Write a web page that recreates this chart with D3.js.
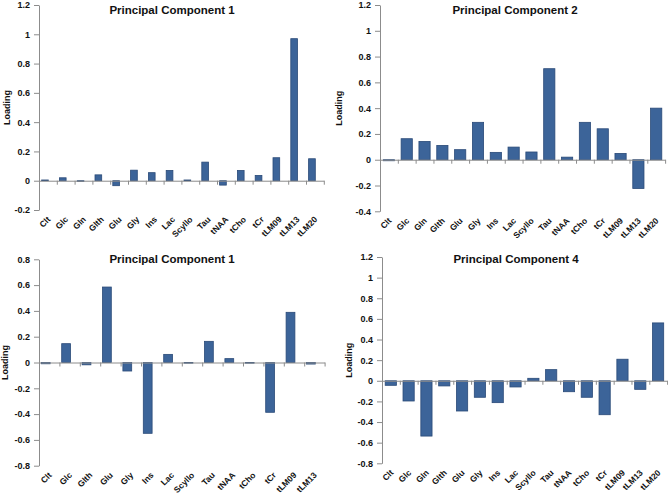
<!DOCTYPE html>
<html>
<head>
<meta charset="utf-8">
<script src="https://cdn.jsdelivr.net/npm/d3@7"></script>
<style>
body { margin:0; background:#fff; }
text { font-family:"Liberation Sans", Arial, sans-serif; font-weight:bold; fill:#111; }
</style>
</head>
<body>
<svg id="graph" width="668" height="494"></svg>
<script>
// categories
var cats16 = ["Clt","Glc","Gln","Glth","Glu","Gly","Ins","Lac","Scyllo","Tau","tNAA","tCho","tCr","tLM09","tLM13","tLM20"]
var cats14 = ["Clt","Glc","Glth","Glu","Gly","Ins","Lac","Scyllo","Tau","tNAA","tCho","tCr","tLM09","tLM13"]

// loadings
var pc1 = [0.005,0.02,-0.005,0.04,-0.034,0.072,0.055,0.07,0.005,0.127,-0.03,0.07,0.036,0.157,0.97,0.15]
var pc2 = [-0.008,0.163,0.142,0.111,0.078,0.29,0.057,0.098,0.06,0.706,0.02,0.29,0.24,0.049,-0.223,0.40]
var pc3 = [-0.01,0.146,-0.018,0.585,-0.066,-0.549,0.063,-0.005,0.164,0.03,-0.005,-0.386,0.389,-0.012]
var pc4 = [-0.044,-0.196,-0.536,-0.05,-0.293,-0.16,-0.212,-0.06,0.024,0.108,-0.106,-0.16,-0.329,0.209,-0.083,0.561]

// tick labels
var ticks1 = [-0.2,0,0.2,0.4,0.6,0.8,1,1.2]
var ticks2 = [-0.4,-0.2,0,0.2,0.4,0.6,0.8,1,1.2]
var ticks3 = [-0.8,-0.6,-0.4,-0.2,0,0.2,0.4,0.6,0.8]
var ticks4 = [-0.8,-0.6,-0.4,-0.2,0,0.2,0.4,0.6,0.8,1,1.2]

var titles = ["Principal Component 1","Principal Component 2","Principal Component 1","Principal Component 4"]

var panels = [
    {title:titles[0], cats:cats16, vals:pc1, ticks:ticks1, left:39, band:17.8, top:5, bottom:210, barW:6.7, barOff:2.6, titleX:172, titleY:14, labX:7},
    {title:titles[1], cats:cats16, vals:pc2, ticks:ticks2, left:380, band:17.82, top:5, bottom:211.3, barW:11.2, barOff:3.3, titleX:515, titleY:14, labX:339},
    {title:titles[2], cats:cats14, vals:pc3, ticks:ticks3, left:39, band:20.4, top:259.3, bottom:465.7, barW:8.8, barOff:2.3, titleX:172, titleY:263, labX:5},
    {title:titles[3], cats:cats16, vals:pc4, ticks:ticks4, left:382, band:17.82, top:257, bottom:463.3, barW:11.2, barOff:3.2, titleX:516, titleY:263, labX:349}
]

var fmt = function(d)
{
    return String(+d.toFixed(2))
}

var drawPanel = function(svg,p)
{
    var n = p.cats.length
    var right = p.left + n*p.band

    var xScale = d3.scaleBand()
    .domain(p.cats)
    .range([p.left,right])

    var edgeScale = d3.scaleLinear()
    .domain([0,n])
    .range([p.left,right])

    var yScale = d3.scaleLinear()
    .domain([p.ticks[0],p.ticks[p.ticks.length-1]])
    .range([p.bottom,p.top])

    var g = svg.append("g")

    // y axis
    var yAxis = g.append("g")
    .attr("transform","translate("+p.left+",0)")
    .call(d3.axisLeft(yScale).tickValues(p.ticks).tickSize(5).tickSizeOuter(0).tickFormat(fmt))
    yAxis.selectAll("path,line").attr("stroke","#8c8c8c")
    yAxis.selectAll("text")
    .attr("x",-9)
    .style("font-size","9px")
    .style("font-family","Liberation Sans, Arial, sans-serif")
    .style("font-weight","bold")
    .attr("fill","#111")

    // bars
    g.selectAll("rect")
    .data(p.vals)
    .enter()
    .append("rect")
    .attr("x",function(v,i){ return xScale(p.cats[i])+p.barOff })
    .attr("y",function(v){ return Math.min(yScale(v),yScale(0)) })
    .attr("width",p.barW)
    .attr("height",function(v){ return Math.abs(yScale(v)-yScale(0)) })
    .attr("fill","#3c6499")
    .attr("stroke","#2a4a78")
    .attr("stroke-width",0.8)

    // category axis on zero line
    var xAxis = g.append("g")
    .attr("transform","translate(0,"+yScale(0)+")")
    .call(d3.axisBottom(edgeScale).tickValues(d3.range(n+1)).tickSize(4).tickSizeOuter(0).tickFormat(""))
    xAxis.selectAll("path,line").attr("stroke","#8c8c8c")

    // category labels at the bottom
    g.selectAll(".cat")
    .data(p.cats)
    .enter()
    .append("text")
    .attr("class","cat")
    .attr("text-anchor","end")
    .attr("transform",function(c)
         {
        var cx = xScale(c)+xScale.bandwidth()/2+3
        return "translate("+cx+","+(p.bottom+10)+") rotate(-45)"
    })
    .style("font-size","8.5px")
    .text(function(c){ return c })

    // title
    g.append("text")
    .attr("x",p.titleX)
    .attr("y",p.titleY)
    .attr("text-anchor","middle")
    .style("font-size","11.5px")
    .text(p.title)

    // axis title
    g.append("text")
    .attr("transform","translate("+(p.labX+3)+","+((p.top+p.bottom)/2)+") rotate(-90)")
    .attr("text-anchor","middle")
    .style("font-size","9px")
    .text("Loading")
}

var initGraph = function()
{
    var svg = d3.select("#graph")
    panels.forEach(function(p){ drawPanel(svg,p) })
}

initGraph()
</script>
</body>
</html>
